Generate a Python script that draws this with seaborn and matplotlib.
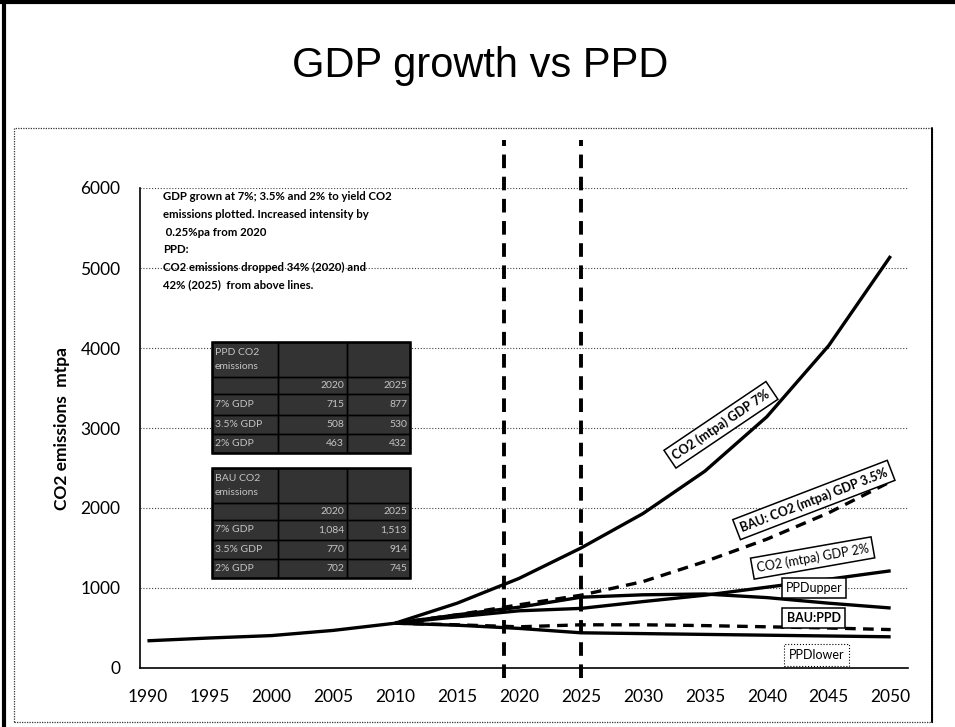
import matplotlib
matplotlib.use("Agg")
import matplotlib.pyplot as plt
import seaborn as sns
import numpy as np
import pandas as pd
from matplotlib.patches import Rectangle
from matplotlib.lines import Line2D

# ---------------- data ----------------
years_hist = [1990, 1995, 2000, 2005, 2010]
co2_hist = [340, 375, 405, 470, 560]

years_proj = [2010, 2015, 2020, 2025, 2030, 2035, 2040, 2045, 2050]
co2_gdp7 = [560, 810, 1120, 1500, 1930, 2460, 3140, 4030, 5150]
co2_bau35 = [560, 665, 790, 910, 1080, 1330, 1610, 1940, 2330]
co2_gdp2 = [560, 640, 715, 745, 830, 910, 1010, 1110, 1215]
ppd_upper = [560, 665, 760, 885, 915, 925, 880, 810, 750]
bau_ppd = [560, 540, 515, 540, 540, 530, 515, 500, 480]
ppd_lower = [560, 535, 495, 440, 430, 420, 410, 400, 390]

marker_years = [2018.8, 2025]

x_ticks = list(range(1990, 2051, 5))
y_ticks = [0, 1000, 2000, 3000, 4000, 5000, 6000]

title_text = "GDP growth vs PPD"
ylabel_text = "CO2 emissions  mtpa"
note_lines = [
    "GDP grown at 7%; 3.5% and 2% to yield CO2",
    "emissions plotted. Increased intensity by",
    " 0.25%pa from 2020",
    "PPD:",
    "CO2 emissions dropped 34% (2020) and",
    "42% (2025)  from above lines.",
]

table_years = ["2020", "2025"]
table_cases = ["7% GDP", "3.5% GDP", "2% GDP"]
ppd_2020 = [715, 508, 463]
ppd_2025 = [877, 530, 432]
bau_2020 = [1084, 770, 702]
bau_2025 = [1513, 914, 745]

# ---------------- figure ----------------
sns.set_theme(style="white")
plt.rcParams["font.family"] = ["Lato", "DejaVu Sans"]

W, H = 955, 727
fig = plt.figure(figsize=(W / 100, H / 100), dpi=100)
fig.patch.set_facecolor("white")


def fx(px):
    return px / W


def fy(py):
    return 1 - py / H


AX_L, AX_R, AX_T, AX_B = 140, 908, 188, 668
ax = fig.add_axes([fx(AX_L), fy(AX_B), fx(AX_R) - fx(AX_L), fy(AX_T) - fy(AX_B)])
ax.set_facecolor("white")
ax.set_xlim(1989.4, 2051.4)
ax.set_ylim(0, 6000)

# grid
for yv in y_ticks[1:]:
    ax.axhline(yv, color="#444444", lw=0.8, ls=(0, (1, 1.6)), zorder=1)


def draw(xs, ys, dashed=False):
    sns.lineplot(x=xs, y=ys, ax=ax, color="black", lw=2.4, zorder=3,
                 estimator=None, sort=False)
    ln = ax.lines[-1]
    if dashed:
        ln.set_dashes((3.2, 2.2))
    ln.set_solid_capstyle("butt")


draw(years_hist, co2_hist)
draw(years_proj, co2_gdp7)
draw(years_proj, co2_bau35, dashed=True)
draw(years_proj, co2_gdp2)
draw(years_proj, ppd_upper)
draw(years_proj, bau_ppd, dashed=True)
draw(years_proj, ppd_lower)

for yr in marker_years:
    ax.plot([yr, yr], [-120, 6600], color="black", lw=2.8, clip_on=False,
            dashes=(3.5, 2.2), zorder=4)

# axes styling
for s in ["top", "right"]:
    ax.spines[s].set_visible(False)
for s in ["left", "bottom"]:
    ax.spines[s].set_color("black")
    ax.spines[s].set_linewidth(1.2)
ax.set_xticks(x_ticks)
ax.set_yticks(y_ticks)
ax.set_xticklabels([str(v) for v in x_ticks])
ax.set_yticklabels([str(v) for v in y_ticks])
ax.tick_params(axis="x", length=0, pad=15, labelsize=12.5, labelcolor="black")
ax.tick_params(axis="y", length=0, pad=14, labelsize=12.5, labelcolor="black")
ax.set_ylabel(ylabel_text, fontsize=12.5, fontweight="bold", color="black")
ax.yaxis.set_label_coords((70 - AX_L) / (AX_R - AX_L), 0.5)
ax.set_xlabel("")

# series labels with boxes
lab_kw = dict(fontsize=9, color="black", ha="center", va="center", zorder=6)
ax.text(2036.3, 3040, "CO2 (mtpa) GDP 7%", rotation=34, fontweight="bold",
        bbox=dict(boxstyle="square,pad=0.35", fc="white", ec="black", lw=1.1), **lab_kw)
ax.text(2043.8, 2100, "BAU: CO2 (mtpa) GDP 3.5%", rotation=21, fontweight="bold",
        bbox=dict(boxstyle="square,pad=0.35", fc="white", ec="black", lw=1.1), **lab_kw)
ax.text(2043.7, 1375, "CO2 (mtpa) GDP 2%", rotation=10,
        bbox=dict(boxstyle="square,pad=0.35", fc="white", ec="black", lw=1.1), **lab_kw)
ax.text(2043.8, 1000, "PPDupper",
        bbox=dict(boxstyle="square,pad=0.3", fc="white", ec="black", lw=1.1), **lab_kw)
ax.text(2043.8, 625, "BAU:PPD", fontweight="bold",
        bbox=dict(boxstyle="square,pad=0.35", fc="white", ec="black", lw=1.1), **lab_kw)
ax.text(2044.0, 162, "PPDlower",
        bbox=dict(boxstyle="square,pad=0.4", fc="white", ec="black", lw=0.8, ls=":"), **lab_kw)

# note text
for i, line in enumerate(note_lines):
    fig.text(fx(163), fy(197 + i * 17.6), line, fontsize=8.2, fontweight="bold",
             ha="left", va="center", color="black")


# tables
def draw_table(title, v2020, v2025, x0, y0, col_w, row_h):
    rows = [[title, "", ""], ["", table_years[0], table_years[1]]]
    for c, a, b in zip(table_cases, v2020, v2025):
        rows.append([c, f"{a:,}", f"{b:,}"])
    total_w = sum(col_w)
    total_h = sum(row_h)
    fig.add_artist(Rectangle((fx(x0), fy(y0 + total_h)), total_w / W, total_h / H,
                             transform=fig.transFigure, fc="#333333", ec="black", lw=1.8, zorder=5))
    y = y0
    for r, rh in enumerate(row_h):
        x = x0
        for c, cw in enumerate(col_w):
            fig.add_artist(Rectangle((fx(x), fy(y + rh)), cw / W, rh / H,
                                     transform=fig.transFigure, fc="none", ec="black",
                                     lw=1.0, zorder=6))
            txt = rows[r][c]
            if txt:
                if c == 0:
                    fig.text(fx(x + 3), fy(y + rh / 2), txt, fontsize=7.5, ha="left",
                             va="center", color="#c4c4c4", zorder=7, linespacing=1.6)
                else:
                    fig.text(fx(x + cw - 3), fy(y + rh / 2), txt, fontsize=7.5, ha="right",
                             va="center", color="#c4c4c4", zorder=7)
            x += cw
        y += rh


draw_table("PPD CO2\nemissions", ppd_2020, ppd_2025, 212, 342, [66, 69, 63], [35, 17, 21, 19, 19])
draw_table("BAU CO2\nemissions", bau_2020, bau_2025, 212, 468, [66, 69, 63], [35, 17, 20, 19, 19])

# title
fig.text(fx(480), fy(66), title_text, fontsize=30, ha="center", va="center",
         family=["Liberation Sans", "DejaVu Sans"], color="black")

# frames
fig.add_artist(Rectangle((fx(14), fy(722)), (932 - 14) / W, (722 - 128) / H,
                         transform=fig.transFigure, fc="none", ec="#333333", lw=0.9, ls=(0, (1, 1))))
fig.add_artist(Line2D([fx(932), fx(932)], [fy(128), fy(722)], transform=fig.transFigure,
                      color="black", lw=1.4))
fig.add_artist(Line2D([fx(4), fx(4)], [0, 1], transform=fig.transFigure, color="black", lw=3))
fig.add_artist(Line2D([0, 1], [fy(2), fy(2)], transform=fig.transFigure, color="black", lw=3))

fig.savefig("out.png", dpi=100, facecolor="white")
